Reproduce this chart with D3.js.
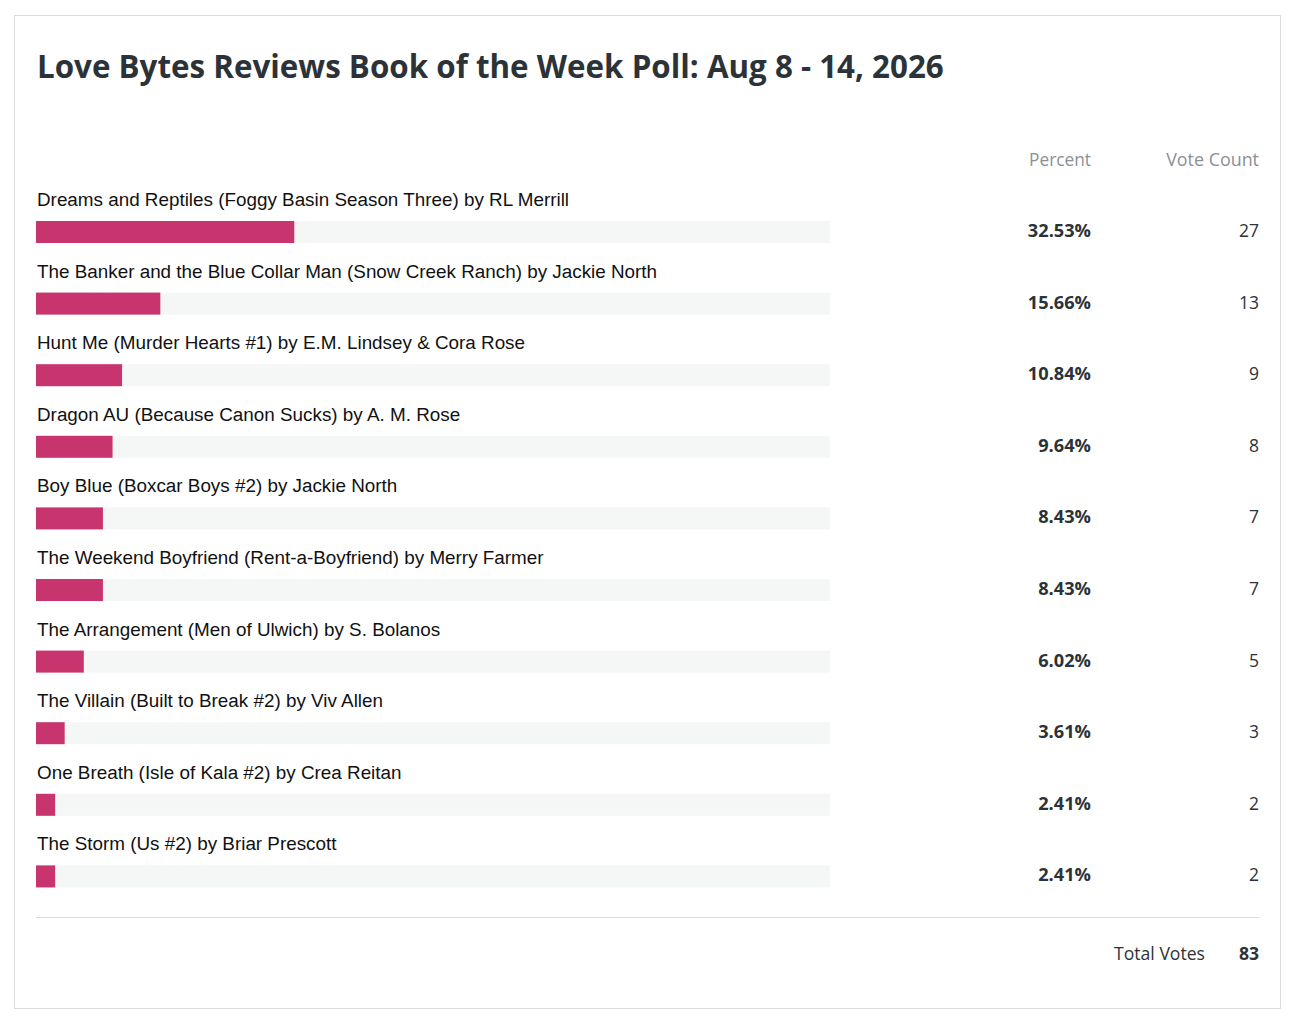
<!DOCTYPE html>
<html><head><meta charset="utf-8">
<script src="https://cdn.jsdelivr.net/npm/d3@7"></script>
<style>html,body{margin:0;padding:0;background:#fff;}svg{display:block;}</style>
</head><body>
<svg id="chart" width="1296" height="1024"></svg>
<script>
const title = "Love Bytes Reviews Book of the Week Poll: Aug 8 - 14, 2026";
const books = [
  "Dreams and Reptiles (Foggy Basin Season Three) by RL Merrill",
  "The Banker and the Blue Collar Man (Snow Creek Ranch) by Jackie North",
  "Hunt Me (Murder Hearts #1) by E.M. Lindsey & Cora Rose",
  "Dragon AU (Because Canon Sucks) by A. M. Rose",
  "Boy Blue (Boxcar Boys #2) by Jackie North",
  "The Weekend Boyfriend (Rent-a-Boyfriend) by Merry Farmer",
  "The Arrangement (Men of Ulwich) by S. Bolanos",
  "The Villain (Built to Break #2) by Viv Allen",
  "One Breath (Isle of Kala #2) by Crea Reitan",
  "The Storm (Us #2) by Briar Prescott"
];
const percents = [32.53, 15.66, 10.84, 9.64, 8.43, 8.43, 6.02, 3.61, 2.41, 2.41];
const votes = [27, 13, 9, 8, 7, 7, 5, 3, 2, 2];
const headers = ["Percent", "Vote Count"];
const totalLabel = "Total Votes";
const totalVotes = 83;

const svg = d3.select("#chart");
const segoe = "'Segoe UI','Open Sans','Noto Sans',sans-serif";
const arial = "Arial,'Liberation Sans',sans-serif";

// card
svg.append("rect").attr("x",14.5).attr("y",15.5).attr("width",1266).attr("height",993)
  .attr("fill","#fff").attr("stroke","#dcdcde").attr("stroke-width",1);

function fit(sel, w){
  const n = sel.node(); const l = n.getComputedTextLength();
  const fs = parseFloat(sel.attr("font-size"));
  sel.attr("font-size", fs * w / l);
}

const t = svg.append("text").attr("x",37).attr("y",78).attr("font-family",segoe)
  .attr("font-weight",700).attr("font-size",32).attr("fill","#2c3338").text(title);
fit(t, 907);

const x = d3.scaleLinear().domain([0,100]).range([36,830]);
const y = d3.scaleLinear().domain([0, books.length-1]).range([221, 221 + 71.6*9]);

const hdrX = [1091, 1259];
const hdrSize = [17.3, 17.9];
headers.forEach((h,i)=>{
  svg.append("text").attr("x",hdrX[i]).attr("y",166).attr("text-anchor","end")
    .attr("font-family",segoe).attr("font-size",hdrSize[i]).attr("fill","#8c8f94").text(h);
});

const rows = svg.selectAll("g.row").data(books.map((b,i)=>({b,p:percents[i],v:votes[i]})))
  .join("g").attr("class","row").attr("transform",(d,i)=>`translate(0,${y(i)})`);

rows.append("text").attr("x",37).attr("y",-15).attr("font-family",arial)
  .attr("font-size",18.85).attr("fill","#111").text(d=>d.b);
rows.append("rect").attr("x",x(0)).attr("y",0).attr("width",x(100)-x(0)).attr("height",22).attr("fill","#f5f6f6");
rows.append("rect").attr("x",x(0)).attr("y",0).attr("width",d=>x(d.p)-x(0)).attr("height",22).attr("fill","#c8356e");
rows.append("text").attr("x",1091).attr("y",16).attr("text-anchor","end").attr("font-family",segoe)
  .attr("font-weight",700).attr("font-size",18.2).attr("fill","#2c3338").text(d=>d.p.toFixed(2)+"%");
rows.append("text").attr("x",1259).attr("y",16).attr("text-anchor","end").attr("font-family",segoe)
  .attr("font-size",17.5).attr("fill","#2c3338").text(d=>d.v);

svg.append("line").attr("x1",36).attr("x2",1259).attr("y1",917.5).attr("y2",917.5).attr("stroke","#dcdcde");
svg.append("text").attr("x",1205).attr("y",960).attr("text-anchor","end").attr("font-family",segoe)
  .attr("font-size",17.6).attr("fill","#2c3338").text(totalLabel);
svg.append("text").attr("x",1259).attr("y",960).attr("text-anchor","end").attr("font-family",segoe)
  .attr("font-weight",700).attr("font-size",17.6).attr("fill","#2c3338").text(totalVotes);
</script>
</body></html>
